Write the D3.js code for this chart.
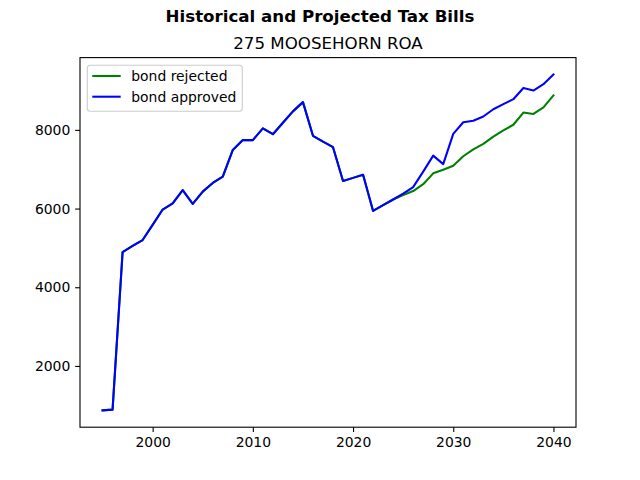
<!DOCTYPE html>
<html>
<head>
<meta charset="utf-8">
<script src="https://cdn.jsdelivr.net/npm/d3@7"></script>
<style>
    body { margin: 0; background: #fff; }
    svg { font-family: "DejaVu Sans", sans-serif; }
</style>
</head>
<body>
<div id="chart"></div>
<script>

//******************************************************************************
//**  Data
//******************************************************************************
var years = [1995,1996,1997,1998,1999,2000,2001,2002,2003,2004,
             2005,2006,2007,2008,2009,2010,2011,2012,2013,2014,
             2015,2016,2017,2018,2019,2020,2021,2022,2023,2024,
             2025,2026,2027,2028,2029,2030,2031,2032,2033,2034,
             2035,2036,2037,2038,2039,2040];

var bondRejected = [870,890,4890,5050,5200,5585,5975,6130,6470,6120,
                    6430,6650,6810,7490,7740,7740,8040,7890,8180,8470,
                    8705,7850,7700,7560,6700,6780,6860,5940,6085,6230,
                    6345,6445,6620,6895,6985,7090,7330,7505,7645,7830,
                    7985,8130,8440,8405,8570,8875];

var bondApproved = [870,890,4890,5050,5200,5585,5975,6130,6470,6120,
                    6430,6650,6810,7490,7740,7740,8040,7890,8180,8470,
                    8705,7850,7700,7560,6700,6780,6860,5940,6085,6230,
                    6380,6545,6940,7345,7130,7900,8195,8230,8340,8525,
                    8655,8780,9065,9000,9160,9410];

var xTicks = [2000,2010,2020,2030,2040];
var yTicks = [2000,4000,6000,8000];

var series = [
    {name: "bond rejected", values: bondRejected, color: "green"},
    {name: "bond approved", values: bondApproved, color: "blue"}
];


//******************************************************************************
//**  Chart
//******************************************************************************
var width = 640, height = 480;
var margin = {top: 57.6, right: 64, bottom: 52.8, left: 80};
var plotW = width - margin.left - margin.right;
var plotH = height - margin.top - margin.bottom;

var svg = d3.select("#chart").append("svg")
    .attr("width", width)
    .attr("height", height);

//pad domains by 5% like matplotlib
var pad = function(ext){
    var d = (ext[1]-ext[0])*0.05;
    return [ext[0]-d, ext[1]+d];
};
var allValues = bondRejected.concat(bondApproved);

var x = d3.scaleLinear()
    .domain(pad(d3.extent(years)))
    .range([margin.left, margin.left + plotW]);

var y = d3.scaleLinear()
    .domain(pad(d3.extent(allValues)))
    .range([margin.top + plotH, margin.top]);

//titles
svg.append("text")
    .attr("x", width/2).attr("y", 22)
    .attr("text-anchor", "middle")
    .style("font-size", "16.67px")
    .style("font-weight", "bold")
    .text("Historical and Projected Tax Bills");

svg.append("text")
    .attr("x", margin.left + plotW/2).attr("y", 49.3)
    .attr("text-anchor", "middle")
    .style("font-size", "16.67px")
    .text("275 MOOSEHORN ROA");

//lines
var line = d3.line()
    .x(function(d, i){ return x(years[i]); })
    .y(function(d){ return y(d); });

var plotArea = svg.append("g");
series.forEach(function(s){
    plotArea.append("path")
        .attr("d", line(s.values))
        .attr("fill", "none")
        .attr("stroke", s.color)
        .attr("stroke-width", 2.08)
        .attr("stroke-linejoin", "round")
        .attr("stroke-linecap", "square");
});

//axes
var xAxis = svg.append("g")
    .attr("transform", "translate(0," + (margin.top + plotH) + ")")
    .call(d3.axisBottom(x).tickValues(xTicks).tickFormat(d3.format("d"))
        .tickSizeInner(4.86).tickSizeOuter(0).tickPadding(4.86));

var yAxis = svg.append("g")
    .attr("transform", "translate(" + margin.left + ",0)")
    .call(d3.axisLeft(y).tickValues(yTicks).tickFormat(d3.format("d"))
        .tickSizeInner(4.86).tickSizeOuter(0).tickPadding(4.86));

[xAxis, yAxis].forEach(function(a){
    a.select(".domain").remove();
    a.selectAll("line").attr("stroke", "#000").attr("stroke-width", 1.1);
    a.selectAll("text")
        .attr("fill", "#000")
        .style("font-size", "13.9px")
        .style("font-family", "DejaVu Sans, sans-serif");
});

//frame
svg.append("rect")
    .attr("x", margin.left).attr("y", margin.top)
    .attr("width", plotW).attr("height", plotH)
    .attr("fill", "none")
    .attr("stroke", "#000")
    .attr("stroke-width", 1.1);

//legend
var legend = svg.append("g").attr("transform", "translate(87.3,65.2)");
legend.append("rect")
    .attr("width", 155).attr("height", 46)
    .attr("rx", 3).attr("ry", 3)
    .attr("fill", "#fff").attr("fill-opacity", 0.8)
    .attr("stroke", "#ccc").attr("stroke-width", 1.1);

series.forEach(function(s, i){
    var ly = 10.8 + i*20.7;
    legend.append("line")
        .attr("x1", 5).attr("x2", 33.4)
        .attr("y1", ly).attr("y2", ly)
        .attr("stroke", s.color).attr("stroke-width", 2.08);
    legend.append("text")
        .attr("x", 44).attr("y", ly + 5)
        .style("font-size", "13.9px")
        .text(s.name);
});

</script>
</body>
</html>
